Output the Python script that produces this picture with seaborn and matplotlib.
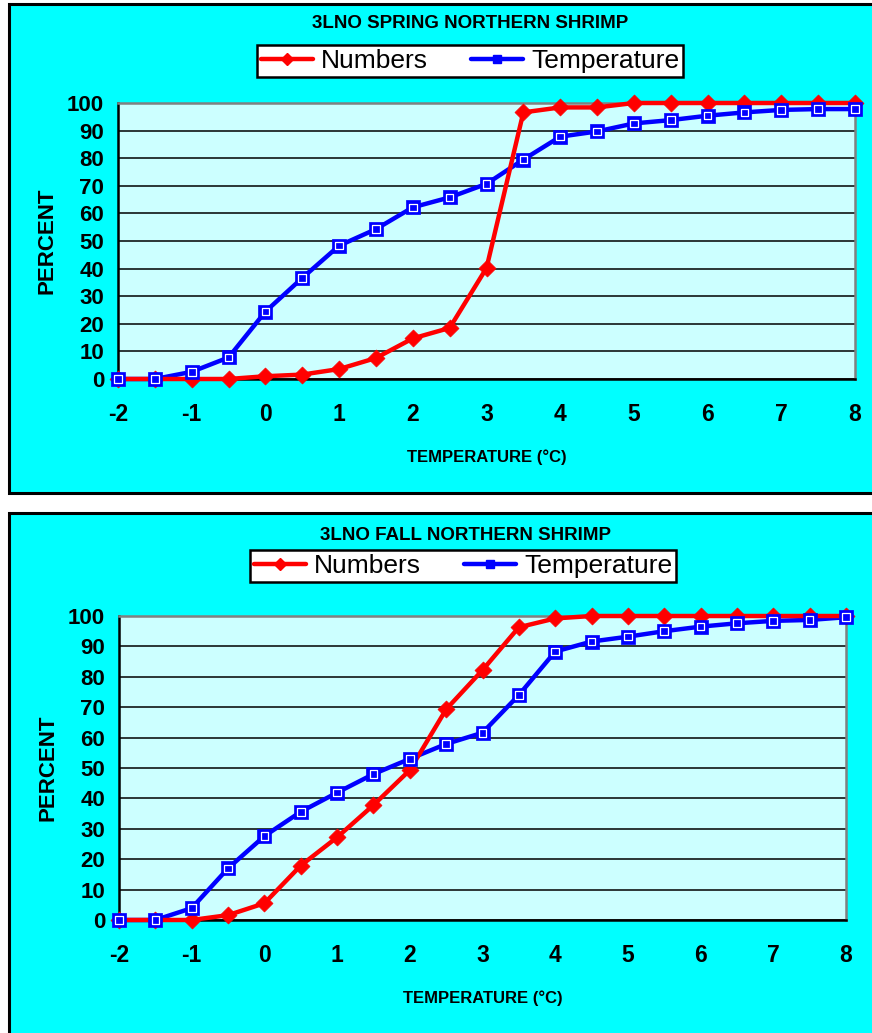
import matplotlib
matplotlib.use("Agg")
import matplotlib.pyplot as plt
import pandas as pd
import seaborn as sns
from matplotlib.lines import Line2D
from matplotlib.patches import Rectangle
from matplotlib.ticker import MultipleLocator

temps = [-2, -1.5, -1, -0.5, 0, 0.5, 1, 1.5, 2, 2.5, 3, 3.5,
         4, 4.5, 5, 5.5, 6, 6.5, 7, 7.5, 8]

spring_numbers = [0, 0, 0, 0, 1.0, 1.6, 3.6, 7.6, 14.7, 18.5, 40.2, 96.6,
                  98.4, 98.4, 100, 100, 100, 100, 100, 100, 100]
spring_temperature = [0, 0, 2.6, 7.8, 24.4, 36.6, 48.3, 54.3, 62.2, 65.8, 70.7, 79.5,
                      87.8, 89.7, 92.6, 93.8, 95.4, 96.6, 97.5, 97.8, 97.8]

fall_numbers = [0, 0, 0, 1.6, 5.5, 17.9, 27.2, 37.8, 49.3, 69.3, 82.2, 96.3,
                99.2, 100, 100, 100, 100, 100, 100, 100, 100]
fall_temperature = [0, 0, 3.9, 17.0, 27.6, 35.6, 41.9, 48.0, 53.0, 57.9, 61.6, 74.0,
                    88.3, 91.6, 93.2, 95.0, 96.5, 97.6, 98.4, 98.7, 99.6]

x_tick_labels = ["-2", "-1", "0", "1", "2", "3", "4", "5", "6", "7", "8"]

RED = "#FF0000"
BLUE = "#0000FF"
CYAN = "#00FFFF"
PLOT_BG = "#CCFFFF"


def draw_panel(fig, rect, numbers, temperature):
    ax = fig.add_axes(rect, zorder=2)
    ax.set_facecolor(PLOT_BG)
    df = pd.DataFrame({"temp": temps, "numbers": numbers, "temperature": temperature})

    sns.lineplot(data=df, x="temp", y="temperature", ax=ax, color=BLUE, lw=3.2,
                 zorder=2, clip_on=False)
    sns.lineplot(data=df, x="temp", y="numbers", ax=ax, color=RED, lw=3.2,
                 zorder=3, clip_on=False)
    sns.scatterplot(data=df, x="temp", y="numbers", ax=ax, marker="D", s=75,
                    color=RED, edgecolor=RED, linewidth=0.5, zorder=4, clip_on=False)
    sns.scatterplot(data=df, x="temp", y="temperature", ax=ax, marker="s", s=110,
                    color=BLUE, edgecolor=BLUE, linewidth=0.5, zorder=5, clip_on=False)
    sns.scatterplot(data=df, x="temp", y="temperature", ax=ax, marker="s", s=30,
                    color="none", edgecolor="white", linewidth=0.9, zorder=6, clip_on=False)

    ax.set_xlim(-2, 8)
    ax.set_ylim(0, 100)
    ax.xaxis.set_minor_locator(MultipleLocator(0.5))
    ax.set_xticks(range(-2, 9))
    ax.set_xticklabels(x_tick_labels)
    ax.yaxis.set_major_locator(MultipleLocator(10))
    ax.yaxis.set_minor_locator(MultipleLocator(5))

    ax.grid(False)
    ax.yaxis.grid(True, which="major", color="black", lw=1.1, zorder=1)
    ax.set_axisbelow(True)

    for side in ("left", "bottom"):
        ax.spines[side].set_color("black")
        ax.spines[side].set_linewidth(1.8)
    for side in ("top", "right"):
        ax.spines[side].set_color("#808080")
        ax.spines[side].set_linewidth(1.8)
        ax.spines[side].set_visible(True)

    ax.tick_params(axis="both", which="both", direction="out", color="black",
                   width=1.5, labelcolor="black")
    ax.tick_params(axis="x", which="major", length=6, pad=11, labelsize=16.5)
    ax.tick_params(axis="x", which="minor", length=6)
    ax.tick_params(axis="y", which="major", length=6, pad=4, labelsize=16)
    ax.tick_params(axis="y", which="minor", length=4)
    for lab in ax.get_xticklabels() + ax.get_yticklabels():
        lab.set_fontweight("bold")

    ax.set_xlabel("TEMPERATURE (°C)", fontsize=12, fontweight="bold", labelpad=17,
                  color="black")
    ax.set_ylabel("PERCENT", fontsize=16, fontweight="bold", labelpad=7,
                  color="black")
    return ax


def draw_legend(fig, center):
    handles = [
        Line2D([], [], color=RED, lw=3.2, marker="D", markersize=6,
               markerfacecolor=RED, markeredgecolor=RED),
        Line2D([], [], color=BLUE, lw=3.2, marker="s", markersize=6,
               markerfacecolor=BLUE, markeredgecolor=BLUE),
    ]
    leg = fig.legend(handles, ["Numbers", "Temperature"], loc="center",
                     bbox_to_anchor=center, ncol=2, fontsize=19, frameon=True,
                     fancybox=False, handlelength=2.0, handletextpad=0.3,
                     columnspacing=1.6, borderpad=0.15, borderaxespad=0,
                     labelcolor="black")
    leg.set_zorder(5)
    frame = leg.get_frame()
    frame.set_edgecolor("black")
    frame.set_linewidth(1.8)
    frame.set_facecolor("white")
    frame.set_alpha(1)


def main() -> None:
    sns.set_theme(style="white")
    plt.rcParams["font.family"] = ["Liberation Sans", "DejaVu Sans"]
    plt.rcParams["text.color"] = "black"

    W, H = 872, 1033
    fig = plt.figure(figsize=(W / 100, H / 100), dpi=100)
    fig.patch.set_facecolor("white")

    # outer chart panels (both run past the right edge, the lower one past the bottom)
    fig.patches.append(Rectangle((9 / W, (H - 493) / H), 900 / W, 489 / H,
                                 transform=fig.transFigure, facecolor=CYAN,
                                 edgecolor="black", lw=2.2, zorder=-5))
    fig.patches.append(Rectangle((9 / W, -20 / H), 900 / W, (H - 513 + 20) / H,
                                 transform=fig.transFigure, facecolor=CYAN,
                                 edgecolor="black", lw=2.2, zorder=-5))

    draw_panel(fig, [118 / W, (H - 379) / H, 737 / W, 276 / H],
               spring_numbers, spring_temperature)
    draw_panel(fig, [119 / W, (H - 920) / H, 727 / W, 304 / H],
               fall_numbers, fall_temperature)

    fig.text(470 / W, 1 - 24 / H, "3LNO SPRING NORTHERN SHRIMP", ha="center",
             va="center", fontsize=13.5, fontweight="bold", color="black")
    fig.text(466 / W, 1 - 535 / H, "3LNO FALL NORTHERN SHRIMP", ha="center",
             va="center", fontsize=13.5, fontweight="bold", color="black")

    draw_legend(fig, (470 / W, 1 - 61 / H))
    draw_legend(fig, (463 / W, 1 - 566 / H))

    fig.savefig("out.png", dpi=100)
    plt.close(fig)


if __name__ == "__main__":
    main()
